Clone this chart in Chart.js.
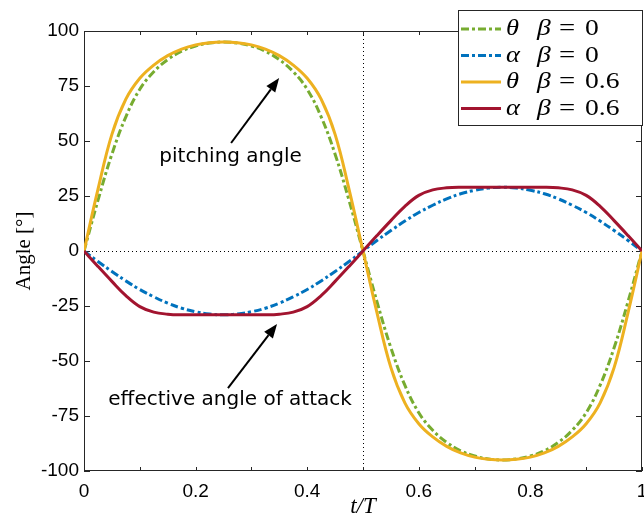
<!DOCTYPE html>
<html>
<head>
<meta charset="utf-8">
<script src="https://cdn.jsdelivr.net/npm/chart.js@4.4.1/dist/chart.umd.min.js"></script>
<style>
  html, body { margin: 0; padding: 0; background: #fff; }
  #wrap { width: 644px; height: 523px; }
</style>
</head>
<body>
<div id="wrap"><canvas id="c" width="644" height="523"></canvas></div>
<script>
// Normalised time t/T (one full pitching period)
const tValues = [0, 0.025, 0.05, 0.075, 0.1, 0.125, 0.15, 0.175, 0.2, 0.225, 0.25,
  0.275, 0.3, 0.325, 0.35, 0.375, 0.4, 0.425, 0.45, 0.475, 0.5,
  0.525, 0.55, 0.575, 0.6, 0.625, 0.65, 0.675, 0.7, 0.725, 0.75,
  0.775, 0.8, 0.825, 0.85, 0.875, 0.9, 0.925, 0.95, 0.975, 1];

// Pitching angle theta, beta = 0 (degrees)
const thetaBeta0 = [0, 23, 44, 61, 73.5, 81.5, 87, 90.8, 93.2, 94.5, 95,
  94.5, 93.2, 90.8, 87, 81.5, 73.5, 61, 44, 23, 0,
  -23, -44, -61, -73.5, -81.5, -87, -90.8, -93.2, -94.5, -95,
  -94.5, -93.2, -90.8, -87, -81.5, -73.5, -61, -44, -23, 0];

// Effective angle of attack alpha, beta = 0 (degrees)
const alphaBeta0 = [0, -4.8, -9.3, -13.6, -17.5, -20.8, -23.7, -26, -27.6, -28.6, -29,
  -28.6, -27.6, -26, -23.7, -20.8, -17.5, -13.6, -9.3, -4.8, 0,
  4.8, 9.3, 13.6, 17.5, 20.8, 23.7, 26, 27.6, 28.6, 29,
  28.6, 27.6, 26, 23.7, 20.8, 17.5, 13.6, 9.3, 4.8, 0];

// Pitching angle theta, beta = 0.6 (degrees)
const thetaBeta06 = [0, 28, 53, 69, 78.5, 84.5, 88.8, 91.8, 93.7, 94.7, 95,
  94.7, 93.7, 91.8, 88.8, 84.5, 78.5, 69, 53, 28, 0,
  -28, -53, -69, -78.5, -84.5, -88.8, -91.8, -93.7, -94.7, -95,
  -94.7, -93.7, -91.8, -88.8, -84.5, -78.5, -69, -53, -28, 0];

// Effective angle of attack alpha, beta = 0.6 (degrees)
const alphaBeta06 = [0, -7, -13.8, -20.3, -25.3, -27.8, -28.7, -29, -29, -29, -29,
  -29, -29, -29, -28.7, -27.8, -25.3, -20.3, -13.8, -7, 0,
  7, 13.8, 20.3, 25.3, 27.8, 28.7, 29, 29, 29, 29,
  29, 29, 29, 28.7, 27.8, 25.3, 20.3, 13.8, 7, 0];

// Legend parts: variable symbol and beta value
const seriesSymbols = ['θ', 'α', 'θ', 'α'];
const seriesBetas = ['0', '0', '0.6', '0.6'];

// Tick labels (x ticks every 0.1, labelled every 0.2; y ticks every 25)
const xTickLabels = ['0', '', '0.2', '', '0.4', '', '0.6', '', '0.8', '', '1'];
const yTickLabels = ['-100', '-75', '-50', '-25', '0', '25', '50', '75', '100'];

// Text annotations with arrows, in data units (t/T, degrees)
const notes = [
  { text: 'pitching angle', at: [0.2627, 42.7], from: [0.2636, 49.1], to: [0.3497, 78.6] },
  { text: 'effective angle of attack', at: [0.2618, -67.7], from: [0.258, -62.3], to: [0.346, -33.2] }
];

const seriesValues = [thetaBeta0, alphaBeta0, thetaBeta06, alphaBeta06];
const styles = [
  { color: '#77AC30', dash: [8, 3, 3, 3], order: 4 },
  { color: '#0072BD', dash: [8, 3, 3, 3], order: 3 },
  { color: '#EDB120', dash: [], order: 2 },
  { color: '#A2142F', dash: [], order: 1 }
];

const datasets = seriesValues.map((vals, i) => ({
  label: seriesSymbols[i] + '  β = ' + seriesBetas[i],
  data: tValues.map((t, k) => ({ x: t, y: vals[k] })),
  borderColor: styles[i].color,
  borderDash: styles[i].dash,
  borderWidth: 3,
  pointRadius: 0,
  fill: false,
  tension: 0.4,
  order: styles[i].order
}));

const tickFont = { family: '"Liberation Sans", Arial, sans-serif', size: 19 };

// text drawn slightly widened, the way the serif labels are set
function wideText(ctx, str, x, y, sx) {
  ctx.save();
  ctx.translate(x, y);
  ctx.scale(sx, 1);
  ctx.fillText(str, 0, 0);
  ctx.restore();
}

// Axes box, inward ticks, dotted reference lines, axis titles, notes and legend
const framePlugin = {
  id: 'frame',
  beforeDatasetsDraw(chart) {
    const { ctx, chartArea: a, scales: { x, y } } = chart;
    ctx.save();
    ctx.strokeStyle = '#000';
    ctx.lineWidth = 1;
    ctx.setLineDash([1, 3]);
    const y0 = Math.round(y.getPixelForValue(0)) + 0.5;
    const xh = Math.round(x.getPixelForValue(0.5)) + 0.5;
    ctx.beginPath();
    ctx.moveTo(a.left, y0); ctx.lineTo(a.right, y0);
    ctx.moveTo(xh, a.top); ctx.lineTo(xh, a.bottom);
    ctx.stroke();
    ctx.setLineDash([]);

    ctx.strokeStyle = '#262626';
    ctx.beginPath();
    x.ticks.forEach(tk => {
      const px = Math.round(x.getPixelForValue(tk.value)) + 0.5;
      ctx.moveTo(px, a.bottom); ctx.lineTo(px, a.bottom - 4);
      ctx.moveTo(px, a.top); ctx.lineTo(px, a.top + 4);
    });
    y.ticks.forEach(tk => {
      const py = Math.round(y.getPixelForValue(tk.value)) + 0.5;
      ctx.moveTo(a.left, py); ctx.lineTo(a.left + 6, py);
      ctx.moveTo(a.right, py); ctx.lineTo(a.right - 6, py);
    });
    ctx.stroke();
    ctx.strokeRect(a.left + 0.5, a.top + 0.5, a.right - a.left - 1, a.bottom - a.top - 1);

    // axis titles
    ctx.fillStyle = '#000';
    ctx.textAlign = 'center';
    ctx.textBaseline = 'middle';
    ctx.font = 'italic 23px "Liberation Serif", serif';
    ctx.fillText('t/T', (a.left + a.right) / 2, a.bottom + 36);
    ctx.translate(a.left - 60, (a.top + a.bottom) / 2);
    ctx.rotate(-Math.PI / 2);
    ctx.font = '21px "Liberation Serif", serif';
    ctx.fillText('Angle [°]', 0, 0);
    ctx.restore();
  },
  afterDraw(chart) {
    const { ctx, scales: { x, y } } = chart;
    ctx.save();
    // annotations
    ctx.fillStyle = '#000';
    ctx.strokeStyle = '#000';
    ctx.font = '20px "DejaVu Sans", sans-serif';
    ctx.textAlign = 'center';
    ctx.textBaseline = 'middle';
    notes.forEach(n => {
      ctx.fillText(n.text, x.getPixelForValue(n.at[0]), y.getPixelForValue(n.at[1]));
      const x1 = x.getPixelForValue(n.from[0]), y1 = y.getPixelForValue(n.from[1]);
      const x2 = x.getPixelForValue(n.to[0]), y2 = y.getPixelForValue(n.to[1]);
      const ang = Math.atan2(y2 - y1, x2 - x1);
      const hl = 14, hw = 5.5;
      const bx = x2 - hl * Math.cos(ang), by = y2 - hl * Math.sin(ang);
      ctx.lineWidth = 2;
      ctx.beginPath();
      ctx.moveTo(x1, y1); ctx.lineTo(bx, by);
      ctx.stroke();
      ctx.beginPath();
      ctx.moveTo(x2, y2);
      ctx.lineTo(bx + hw * Math.sin(ang), by - hw * Math.cos(ang));
      ctx.lineTo(bx - hw * Math.sin(ang), by + hw * Math.cos(ang));
      ctx.closePath();
      ctx.fill();
    });

    // legend box
    const bx0 = 458.5, by0 = 10.5, bw = 184, bh = 115;
    ctx.fillStyle = '#fff';
    ctx.fillRect(bx0, by0, bw, bh);
    ctx.lineWidth = 1;
    ctx.strokeStyle = '#262626';
    ctx.strokeRect(bx0, by0, bw, bh);
    chart.data.datasets.forEach((ds, i) => {
      const ry = 29 + i * 26.5;
      ctx.strokeStyle = ds.borderColor;
      ctx.lineWidth = 3;
      ctx.setLineDash(ds.borderDash);
      ctx.beginPath();
      ctx.moveTo(461, ry); ctx.lineTo(501, ry);
      ctx.stroke();
      ctx.setLineDash([]);
      ctx.fillStyle = '#000';
      ctx.textAlign = 'left';
      ctx.textBaseline = 'middle';
      ctx.font = 'italic 23px "Liberation Serif", serif';
      wideText(ctx, seriesSymbols[i], 506, ry, 1.15);
      wideText(ctx, 'β', 537, ry, 1.2);
      ctx.font = '23px "Liberation Serif", serif';
      wideText(ctx, '=', 559, ry, 1.25);
      wideText(ctx, seriesBetas[i], 585, ry, 1.2);
    });
    ctx.restore();
  }
};

new Chart(document.getElementById('c'), {
  type: 'line',
  data: { datasets },
  options: {
    responsive: false,
    animation: false,
    devicePixelRatio: 1,
    layout: { padding: { top: 31, right: 2, left: 0, bottom: 0 } },
    plugins: { legend: { display: false }, tooltip: { enabled: false } },
    scales: {
      x: {
        type: 'linear', min: 0, max: 1,
        grid: { display: false, drawTicks: false },
        border: { display: false },
        ticks: {
          stepSize: 0.1, autoSkip: false, maxRotation: 0, padding: 9,
          color: '#000', font: tickFont,
          callback: (v, i) => xTickLabels[i]
        },
        afterFit: s => { s.height = 52; s.paddingLeft = 0; s.paddingRight = 0; }
      },
      y: {
        type: 'linear', min: -100, max: 100,
        grid: { display: false, drawTicks: false },
        border: { display: false },
        ticks: {
          stepSize: 25, padding: 5, color: '#000', font: tickFont,
          callback: (v, i) => yTickLabels[i]
        },
        afterFit: s => { s.width = 84; }
      }
    }
  },
  plugins: [framePlugin]
});
</script>
</body>
</html>
